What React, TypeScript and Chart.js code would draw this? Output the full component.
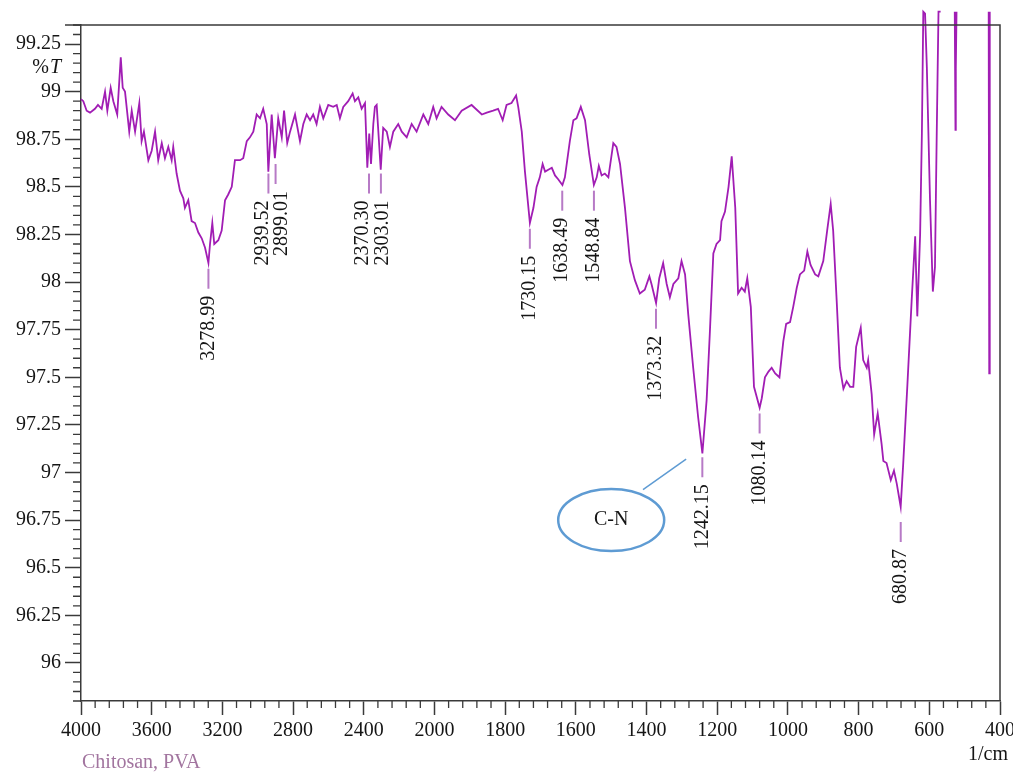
import { useEffect, useRef } from 'react';
import { Chart, registerables } from 'chart.js';

Chart.register(...registerables);

// ---- data (wavenumber in 1/cm, transmittance in %T) ----
const wavenumbers: number[] = [
  4000, 3987, 3968, 3949, 3921, 3904, 3883, 3864, 3851, 3832,
  3817, 3795, 3775, 3764, 3751, 3727, 3713, 3694, 3670, 3657,
  3644, 3619, 3600, 3581, 3563, 3543, 3525, 3506, 3487, 3478,
  3459, 3440, 3421, 3412, 3393, 3374, 3355, 3336, 3317, 3298,
  3279, 3270, 3257, 3246, 3223, 3204, 3185, 3167, 3147, 3129,
  3100, 3082, 3062, 3044, 3025, 3006, 2987, 2969, 2949, 2940,
  2921, 2903, 2884, 2864, 2851, 2833, 2817, 2789, 2761, 2742,
  2723, 2704, 2686, 2667, 2648, 2629, 2601, 2573, 2553, 2535,
  2516, 2488, 2463, 2450, 2431, 2412, 2393, 2380, 2369, 2359,
  2346, 2337, 2327, 2304, 2290, 2270, 2252, 2233, 2205, 2185,
  2157, 2129, 2101, 2063, 2035, 2007, 1994, 1980, 1961, 1942,
  1923, 1895, 1866, 1852, 1834, 1820, 1807, 1796, 1782, 1769,
  1763, 1753, 1744, 1730, 1720, 1711, 1702, 1694, 1687, 1678,
  1668, 1659, 1650, 1638, 1631, 1617, 1607, 1598, 1586, 1574,
  1562, 1549, 1541, 1535, 1527, 1518, 1508, 1494, 1485, 1475,
  1461, 1447, 1433, 1419, 1405, 1392, 1386, 1373, 1364, 1353,
  1343, 1334, 1324, 1310, 1301, 1291, 1282, 1268, 1254, 1242,
  1230, 1221, 1211, 1202, 1192, 1188, 1178, 1168, 1159, 1149,
  1141, 1131, 1122, 1115, 1105, 1096, 1080, 1074, 1065, 1055,
  1046, 1036, 1024, 1013, 1005, 994, 985, 975, 966, 954,
  945, 936, 923, 914, 900, 889, 879, 872, 862, 853,
  843, 834, 824, 815, 807, 794, 787, 777, 773, 763,
  756, 746, 735, 730, 721, 709, 700, 692, 681, 674,
  662, 650, 640, 634, 626, 621, 617, 612, 607, 598,
  590, 584, 579, 574, 568, 560, 528, 526, 525, 523,
  480, 432, 430.5, 429,
];

const transmittance: (number | null)[] = [
  98.96, 98.95, 98.90, 98.89, 98.91, 98.93, 98.91, 99.00, 98.90, 99.02,
  98.95, 98.88, 99.18, 99.02, 99.00, 98.79, 98.90, 98.79, 98.94, 98.74,
  98.79, 98.64, 98.69, 98.79, 98.64, 98.73, 98.65, 98.71, 98.64, 98.71,
  98.57, 98.48, 98.44, 98.39, 98.43, 98.32, 98.31, 98.26, 98.23, 98.18,
  98.10, 98.20, 98.31, 98.20, 98.22, 98.27, 98.43, 98.46, 98.50, 98.64,
  98.64, 98.65, 98.74, 98.76, 98.79, 98.88, 98.86, 98.91, 98.83, 98.58,
  98.88, 98.65, 98.86, 98.76, 98.90, 98.73, 98.79, 98.88, 98.74, 98.83,
  98.88, 98.85, 98.88, 98.83, 98.92, 98.86, 98.93, 98.92, 98.93, 98.86,
  98.92, 98.95, 98.99, 98.95, 98.97, 98.91, 98.94, 98.60, 98.78, 98.62,
  98.83, 98.92, 98.93, 98.59, 98.81, 98.79, 98.71, 98.79, 98.83, 98.79,
  98.76, 98.83, 98.79, 98.88, 98.83, 98.92, 98.86, 98.92, 98.88, 98.85,
  98.90, 98.93, 98.88, 98.89, 98.90, 98.91, 98.85, 98.93, 98.94, 98.98,
  98.92, 98.79, 98.58, 98.31, 98.39, 98.50, 98.55, 98.62, 98.58, 98.59,
  98.60, 98.56, 98.54, 98.51, 98.55, 98.74, 98.85, 98.86, 98.92, 98.85,
  98.67, 98.51, 98.55, 98.61, 98.56, 98.57, 98.55, 98.73, 98.71, 98.62,
  98.39, 98.11, 98.01, 97.94, 97.96, 98.03, 97.99, 97.89, 98.02, 98.10,
  97.99, 97.92, 97.99, 98.02, 98.11, 98.04, 97.83, 97.55, 97.29, 97.10,
  97.38, 97.73, 98.15, 98.20, 98.22, 98.32, 98.37, 98.50, 98.66, 98.39,
  97.94, 97.97, 97.95, 98.02, 97.87, 97.45, 97.34, 97.39, 97.50, 97.53,
  97.55, 97.52, 97.50, 97.69, 97.78, 97.79, 97.87, 97.97, 98.04, 98.06,
  98.16, 98.09, 98.04, 98.03, 98.11, 98.27, 98.41, 98.27, 97.90, 97.55,
  97.44, 97.48, 97.45, 97.45, 97.66, 97.76, 97.59, 97.55, 97.59, 97.41,
  97.20, 97.31, 97.15, 97.06, 97.05, 96.96, 97.01, 96.94, 96.82, 97.04,
  97.46, 97.90, 98.24, 97.82, 98.25, 98.78, 99.42, 99.41, 99.13, 98.43,
  97.95, 98.08, 98.78, 99.42, 99.42, null, 99.42, 98.80, 99.12, 99.42,
  null, 99.42, 97.52, 99.42,
];

const xTickValues: number[] = [4000, 3600, 3200, 2800, 2400, 2000, 1800, 1600, 1400, 1200, 1000, 800, 600, 400];
const yTickValues: number[] = [96, 96.25, 96.5, 96.75, 97, 97.25, 97.5, 97.75, 98, 98.25, 98.5, 98.75, 99, 99.25];
const yMin = 95.8;
const yMax = 99.35;

const peakWavenumbers: number[] = [3278.99, 2939.52, 2899.01, 2370.30, 2303.01, 1730.15, 1638.49, 1548.84, 1373.32, 1242.15, 1080.14, 680.87];
const peakLabels: string[] = ['3278.99', '2939.52', '2899.01', '2370.30', '2303.01', '1730.15', '1638.49', '1548.84', '1373.32', '1242.15', '1080.14', '680.87'];
const peakMarkTop: number[] = [98.07, 98.57, 98.62, 98.57, 98.57, 98.28, 98.48, 98.48, 97.86, 97.08, 97.31, 96.74];

const seriesName = 'Chitosan, PVA';
const xUnit = '1/cm';
const yUnitPrefix = '%';
const yUnitSymbol = 'T';
const bandLabel = 'C-N';
const bandCenter = { wn: 1500, t: 96.75 };
const bandLeader = { fromWn: 1410, fromT: 96.91, toWn: 1288, toT: 97.07 };

// ---- styling / layout ----
const AXIS_COLOR = '#3a3a3a';
const TEXT_COLOR = '#151515';
const LINE_COLOR = '#a11db4';
const MARK_COLOR = '#b77ac6';
const CALLOUT_COLOR = '#5e9bd3';
const CAPTION_COLOR = '#a2759f';
const FONT = 'Liberation Serif';
const labelShift: number[] = [0, -6, 6, -6, 2, 0, 0, 0, 0, 0, 0, 0];

// FTIR axis: 4000-2000 at 400 per division, 2000-400 at 200 per division
function toAxis(w: number): number {
  return w >= 2000 ? (4000 - w) / 400 : 5 + (2000 - w) / 200;
}

const overlay = {
  id: 'ftirOverlay',
  afterDraw(chart: any) {
    const { ctx, chartArea: a } = chart;
    const x = chart.scales.x;
    const y = chart.scales.y;
    ctx.save();

    // frame top and right
    ctx.strokeStyle = AXIS_COLOR;
    ctx.lineWidth = 1.5;
    ctx.beginPath();
    ctx.moveTo(a.left - 16, a.top);
    ctx.lineTo(a.right, a.top);
    ctx.lineTo(a.right, a.bottom);
    ctx.stroke();

    // minor ticks
    ctx.lineWidth = 1.3;
    ctx.beginPath();
    for (let h = Math.round(yMin * 100); h <= Math.round(yMax * 100); h += 5) {
      if (h % 25 === 0) continue;
      const py = y.getPixelForValue(h / 100);
      ctx.moveTo(a.left - 8, py);
      ctx.lineTo(a.left, py);
    }
    for (let k = 0; k <= 65; k++) {
      if (k % 5 === 0) continue;
      const px = x.getPixelForValue(k / 5);
      ctx.moveTo(px, a.bottom);
      ctx.lineTo(px, a.bottom + 7);
    }
    ctx.stroke();

    // y unit "%T"
    ctx.fillStyle = TEXT_COLOR;
    ctx.textBaseline = 'middle';
    ctx.textAlign = 'right';
    const unitY = y.getPixelForValue(99.125);
    ctx.font = `italic 20px "${FONT}"`;
    const tW = ctx.measureText(yUnitSymbol).width;
    ctx.fillText(yUnitSymbol, a.left - 20, unitY);
    ctx.font = `20px "${FONT}"`;
    ctx.fillText(yUnitPrefix, a.left - 20 - tW - 1, unitY);

    // x unit
    ctx.textAlign = 'right';
    ctx.fillText(xUnit, a.right + 8, a.bottom + 54);

    // caption
    ctx.fillStyle = CAPTION_COLOR;
    ctx.textAlign = 'left';
    ctx.fillText(seriesName, a.left + 1, a.bottom + 62);

    // peak marks and labels
    peakWavenumbers.forEach((w, i) => {
      const px = x.getPixelForValue(toAxis(w));
      const py = y.getPixelForValue(peakMarkTop[i]);
      ctx.strokeStyle = MARK_COLOR;
      ctx.lineWidth = 2;
      ctx.beginPath();
      ctx.moveTo(px, py);
      ctx.lineTo(px, py + 20);
      ctx.stroke();
      ctx.save();
      ctx.translate(px + labelShift[i], py + 27);
      ctx.rotate(-Math.PI / 2);
      ctx.fillStyle = TEXT_COLOR;
      ctx.font = `20px "${FONT}"`;
      ctx.textAlign = 'right';
      ctx.textBaseline = 'middle';
      ctx.fillText(peakLabels[i], 0, 0);
      ctx.restore();
    });

    // C-N callout
    const cx = x.getPixelForValue(toAxis(bandCenter.wn));
    const cy = y.getPixelForValue(bandCenter.t);
    ctx.strokeStyle = CALLOUT_COLOR;
    ctx.lineWidth = 2.5;
    ctx.beginPath();
    ctx.ellipse(cx, cy, 53, 31, 0, 0, Math.PI * 2);
    ctx.stroke();
    ctx.lineWidth = 1.5;
    ctx.beginPath();
    ctx.moveTo(x.getPixelForValue(toAxis(bandLeader.fromWn)), y.getPixelForValue(bandLeader.fromT));
    ctx.lineTo(x.getPixelForValue(toAxis(bandLeader.toWn)), y.getPixelForValue(bandLeader.toT));
    ctx.stroke();
    ctx.fillStyle = TEXT_COLOR;
    ctx.font = `20px "${FONT}"`;
    ctx.textAlign = 'center';
    ctx.textBaseline = 'middle';
    ctx.fillText(bandLabel, cx, cy);

    ctx.restore();
  },
};

export default function App() {
  const canvasRef = useRef<HTMLCanvasElement | null>(null);

  useEffect(() => {
    document.body.style.margin = '0';
    const canvas = canvasRef.current;
    if (!canvas) return;
    const points = wavenumbers.map((w, i) => ({ x: toAxis(w), y: transmittance[i] }));
    const chart = new Chart(canvas, {
      type: 'line',
      data: {
        datasets: [
          {
            label: seriesName,
            data: points as any,
            borderColor: LINE_COLOR,
            borderWidth: 1.8,
            pointRadius: 0,
            tension: 0,
            spanGaps: false,
            clip: false as any,
          },
        ],
      },
      options: {
        responsive: false,
        animation: false,
        layout: { padding: { top: 25, right: 13, left: 0, bottom: 0 } },
        plugins: { legend: { display: false }, tooltip: { enabled: false } },
        scales: {
          x: {
            type: 'linear',
            min: 0,
            max: 13,
            afterBuildTicks: (s: any) => {
              s.ticks = xTickValues.map((w) => ({ value: toAxis(w) }));
            },
            afterFit: (s: any) => {
              s.height = 74;
              s.paddingLeft = 0;
              s.paddingRight = 0;
            },
            ticks: {
              autoSkip: false,
              maxRotation: 0,
              padding: 4,
              color: TEXT_COLOR,
              font: { family: FONT, size: 20 },
              callback: (_v: any, i: number) => String(xTickValues[i]),
            },
            grid: { drawOnChartArea: false, tickLength: 14, tickColor: AXIS_COLOR, tickWidth: 1.5 },
            border: { color: AXIS_COLOR, width: 1.5 },
          },
          y: {
            type: 'linear',
            min: yMin,
            max: yMax,
            afterBuildTicks: (s: any) => {
              s.ticks = yTickValues.map((v) => ({ value: v }));
            },
            afterFit: (s: any) => {
              s.width = 81;
              s.paddingTop = 0;
              s.paddingBottom = 0;
            },
            ticks: {
              padding: 4,
              color: TEXT_COLOR,
              font: { family: FONT, size: 20 },
              callback: (_v: any, i: number) => String(yTickValues[i]),
            },
            grid: { drawOnChartArea: false, tickLength: 16, tickColor: AXIS_COLOR, tickWidth: 1.5 },
            border: { color: AXIS_COLOR, width: 1.5 },
          },
        },
      } as any,
      plugins: [overlay],
    });
    return () => chart.destroy();
  }, []);

  return (
    <canvas
      ref={canvasRef}
      width={1013}
      height={775}
      style={{ display: 'block', width: 1013, height: 775 }}
    />
  );
}
